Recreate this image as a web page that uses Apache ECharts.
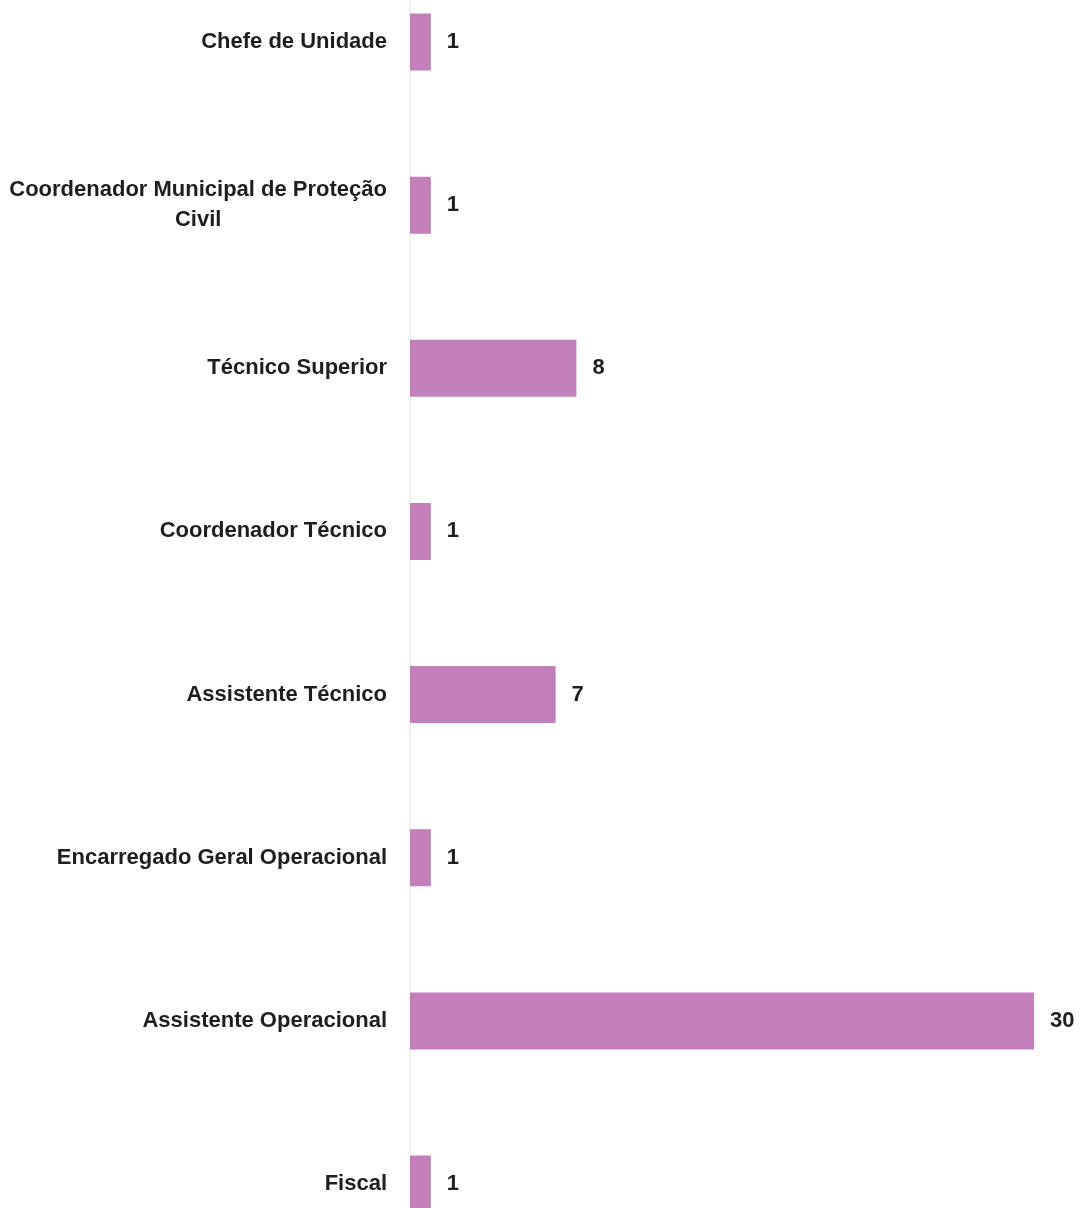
<!DOCTYPE html>
<html>
<head>
<meta charset="utf-8">
<style>
html,body{margin:0;padding:0;background:#fff;}
#chart{width:1080px;height:1208px;}
</style>
<script src="https://cdn.jsdelivr.net/npm/echarts@6/dist/echarts.min.js"></script>
</head>
<body>
<div id="chart"></div>
<script>
const categories = [
  "Chefe de Unidade",
  "Coordenador Municipal de Proteção\nCivil",
  "Técnico Superior",
  "Coordenador Técnico",
  "Assistente Técnico",
  "Encarregado Geral Operacional",
  "Assistente Operacional",
  "Fiscal"
];
const values = [1, 1, 8, 1, 7, 1, 30, 1];

const FONT = '"Liberation Sans Narrow", "Arial Narrow", "Liberation Sans", Arial, sans-serif';
const chart = echarts.init(document.getElementById('chart'), null, {renderer: 'canvas'});
chart.setOption({
  animation: false,
  backgroundColor: '#ffffff',
  grid: {left: 410, right: 46, top: -39.6, height: 1305.2, containLabel: false, outerBoundsMode: 'none'},
  xAxis: {
    type: 'value', min: 0, max: 30, show: false
  },
  yAxis: {
    type: 'category',
    data: categories,
    inverse: true,
    axisLine: {show: true, lineStyle: {color: '#ececec', width: 1.5}},
    axisTick: {show: false},
    splitLine: {show: false},
    axisLabel: {
      margin: 23,
      color: '#1e1e1e',
      fontFamily: FONT,
      fontWeight: 'bold',
      fontSize: 22,
      lineHeight: 30,
      formatter: function (v) {
        return v.split('\n').map(function (s) { return '{a|' + s + '}'; }).join('\n');
      },
      rich: {
        a: {align: 'center', color: '#1e1e1e', fontFamily: FONT, fontWeight: 'bold', fontSize: 22, lineHeight: 30}
      }
    }
  },
  series: [{
    type: 'bar',
    data: values,
    barWidth: 57,
    itemStyle: {color: '#C27FBA'},
    label: {
      show: true,
      position: 'right',
      distance: 16,
      color: '#1e1e1e',
      fontFamily: FONT,
      fontWeight: 'bold',
      fontSize: 22
    }
  }]
});
</script>
</body>
</html>
